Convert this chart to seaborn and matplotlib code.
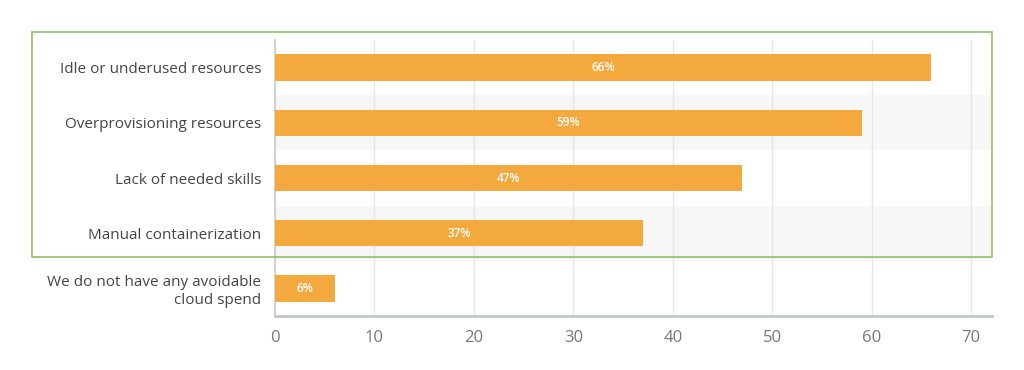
import matplotlib
matplotlib.use("Agg")
import matplotlib.pyplot as plt
import matplotlib.patches as mpatches
import pandas as pd
import seaborn as sns

categories = [
    "Idle or underused resources",
    "Overprovisioning resources",
    "Lack of needed skills",
    "Manual containerization",
    "We do not have any avoidable\ncloud spend",
]
values = [66, 59, 47, 37, 6]
x_ticks = [0, 10, 20, 30, 40, 50, 60, 70]

BAR_COLOR = "#f4a93f"
BAND_COLOR = "#f7f7f7"
BOX_COLOR = "#8fc06a"


def main():
    sns.set_theme(style="white")
    plt.rcParams["font.family"] = ["Open Sans", "DejaVu Sans"]

    df = pd.DataFrame({"category": categories, "value": values})

    fig = plt.figure(figsize=(10.24, 3.7), dpi=100)
    ax = fig.add_axes([275 / 1024, 1 - 316 / 370, 717 / 1024, 276 / 370])

    # alternating row bands
    for i in range(len(categories)):
        if i % 2 == 1:
            ax.axhspan(i - 0.5, i + 0.5, color=BAND_COLOR, zorder=0, lw=0)

    sns.barplot(data=df, x="value", y="category", order=categories,
                color=BAR_COLOR, saturation=1, width=0.48, ax=ax, zorder=3,
                linewidth=0)

    for i, v in enumerate(values):
        ax.text(v / 2, i, f"{v}%", ha="center", va="center",
                color="white", fontsize=8.5, fontweight="semibold", zorder=4)

    ax.set_xlim(0, 72.1)
    ax.set_ylim(len(categories) - 0.5, -0.5)
    ax.set_xticks(x_ticks)
    ax.xaxis.grid(True, color="#e6e6e6", lw=1, zorder=1)
    ax.set_axisbelow(True)
    ax.set_xlabel("")
    ax.set_ylabel("")
    ax.tick_params(axis="x", colors="#777777", labelsize=12, length=0, pad=10)
    ax.tick_params(axis="y", colors="#444444", labelsize=11, length=0, pad=10)
    for lbl in ax.get_yticklabels():
        lbl.set_color("#444444")
        lbl.set_multialignment("right")

    for s in ["top", "right"]:
        ax.spines[s].set_visible(False)
    ax.spines["left"].set_color("#cccccc")
    ax.spines["left"].set_linewidth(1.2)
    ax.spines["bottom"].set_color("#c4c8c8")
    ax.spines["bottom"].set_linewidth(2)

    # green highlight box
    box = mpatches.Rectangle((32 / 1024, 1 - 257 / 370), 960 / 1024, 225 / 370,
                             transform=fig.transFigure, fill=False,
                             edgecolor=BOX_COLOR, lw=1.2, zorder=10)
    fig.patches.append(box)

    fig.savefig("out.png", dpi=100)


if __name__ == "__main__":
    main()
